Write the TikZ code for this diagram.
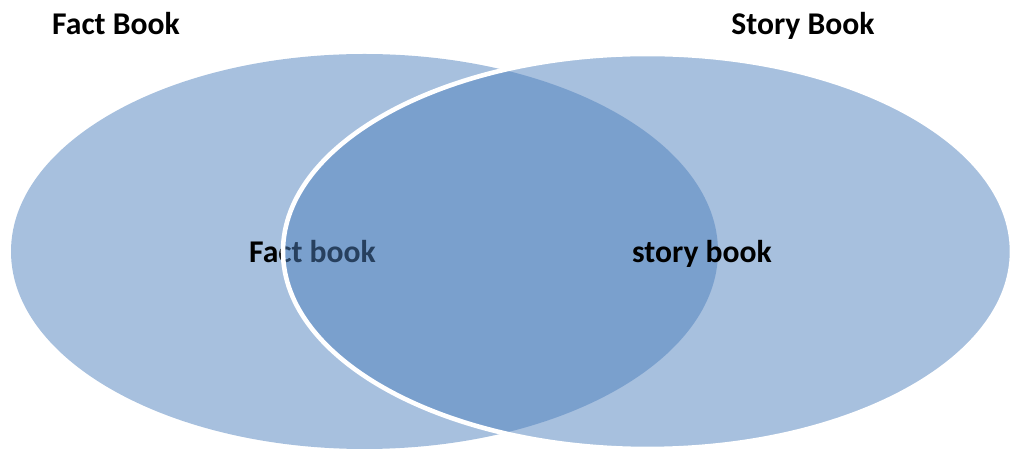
\documentclass[tikz,border=0pt]{standalone}
\usepackage{fontspec}
\setmainfont{Carlito}
\usetikzlibrary{shapes.geometric}
\definecolor{vennblue}{HTML}{4F81BD}

\begin{document}
\begin{tikzpicture}
    \tikzstyle{set}=[ellipse,inner sep=0pt,fill=vennblue,fill opacity=0.5]
    \tikzstyle{label}=[font=\fontsize{9}{10}\selectfont\bfseries,inner sep=0pt,anchor=base]
    \useasboundingbox (0,0) rectangle (10.13,-4.51);
    % Draw the left set and its inner label
    \node[set,minimum width=7.07cm,minimum height=3.95cm] (F) at (3.645,-2.515) {};
    \node[label] (Fin) at (3.125,-2.625) {Fact book};
    % Draw the right set on top, with a white rim
    \node[set,draw=white,line width=1.3pt,minimum width=7.29cm,minimum height=3.95cm] (S) at (6.475,-2.515) {};
    \node[label] (Sin) at (7.02,-2.625) {story book};
    % Annotate the sets
    \node[label] (Ftitle) at (1.16,-0.345) {Fact Book};
    \node[label] (Stitle) at (8.03,-0.345) {Story Book};
\end{tikzpicture}
\end{document}
